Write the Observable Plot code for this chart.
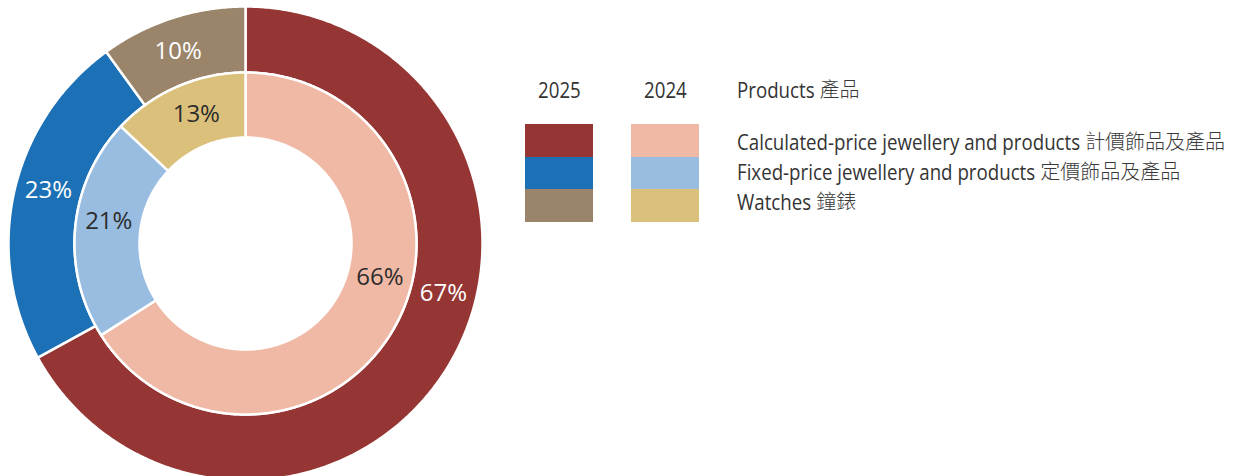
<!DOCTYPE html>
<html>
<head>
<meta charset="utf-8">
<script src="https://cdn.jsdelivr.net/npm/d3@7"></script>
<script src="https://cdn.jsdelivr.net/npm/@observablehq/plot@0.6"></script>
<style>
  html, body { margin: 0; padding: 0; background: #fff; }
  #wrap { position: relative; width: 1234px; height: 476px; overflow: hidden; color: #333; }
  #chart { position: absolute; left: 0; top: 0; }
  .lg { position: absolute; white-space: nowrap; font-size: 22px; line-height: 22px; color: #333; }
  .en { font-family: "Open Sans", sans-serif; font-weight: 380; }
  .zh { font-family: "Noto Sans CJK TC", sans-serif; font-size: 20px; font-weight: 300; color: #3a3a3a; }
  .sw { position: absolute; }
</style>
</head>
<body>
<div id="wrap">
  <div id="chart"></div>
  <div id="legend"></div>
</div>
<script>
// ---- data ----
const categoriesEn = ["Calculated-price jewellery and products", "Fixed-price jewellery and products", "Watches"];
const categoriesZh = ["計價飾品及產品", "定價飾品及產品", "鐘錶"];
const years = ["2025", "2024"];
const values2025 = [67, 23, 10];
const values2024 = [66, 21, 13];
const legendTitleEn = "Products";
const legendTitleZh = "產品";

// ---- palette ----
const colors2025 = ["#953634", "#1c70b6", "#9a846a"];
const colors2024 = ["#f0b9a5", "#98bde1", "#dbc07b"];
const labelInk2025 = "#ffffff";
const labelInk2024 = "#2d2d2d";

// ---- layout ----
const W = 1234, H = 476, cx = 245, cy = 243;
const rings = [
  {year: "2025", values: values2025, colors: colors2025, ink: labelInk2025, r0: 171, r1: 237, nudge: [0, 2.4, -1.3]},
  {year: "2024", values: values2024, colors: colors2024, ink: labelInk2024, r0: 106, r1: 171, nudge: [0, 3.8, 2.6]}
];

const rad = (deg) => deg * Math.PI / 180;
const polyPts = [];
const labels = [];
for (const ring of rings) {
  const total = d3.sum(ring.values);
  let acc = 0;
  ring.values.forEach((v, i) => {
    const a0 = acc / total * 360;
    const a1 = (acc + v) / total * 360;
    acc += v;
    const key = ring.year + "-" + i;
    const n = Math.max(2, Math.ceil((a1 - a0) / 0.5));
    const seg = [];
    for (let k = 0; k <= n; k++) {
      const a = rad(a0 + (a1 - a0) * k / n);
      seg.push({key, fill: ring.colors[i], x: ring.r1 * Math.sin(a), y: ring.r1 * Math.cos(a)});
    }
    for (let k = n; k >= 0; k--) {
      const a = rad(a0 + (a1 - a0) * k / n);
      seg.push({key, fill: ring.colors[i], x: ring.r0 * Math.sin(a), y: ring.r0 * Math.cos(a)});
    }
    seg.push({...seg[0]});
    polyPts.push(...seg);
    // label near mid-angle; the large leading slice carries its label on the right side
    const la = rad(i === 0 ? 104 : (a0 + a1) / 2 + ring.nudge[i]);
    const lr = (ring.r0 + ring.r1) / 2;
    labels.push({text: v + "%", x: lr * Math.sin(la), y: lr * Math.cos(la), ink: ring.ink});
  });
}

const chart = Plot.plot({
  width: W,
  height: H,
  margin: 0,
  x: {type: "linear", domain: [-cx, W - cx], range: [0, W], axis: null},
  y: {type: "linear", domain: [cy, cy - H], range: [0, H], axis: null},
  color: {type: "identity"},
  style: {background: "transparent"},
  marks: [
    Plot.line(polyPts, {x: "x", y: "y", z: "key", fill: "fill", stroke: "#ffffff", strokeWidth: 2.5, strokeLinejoin: "round"}),
    Plot.text(labels, {x: "x", y: "y", text: "text", fill: "ink", fontSize: 24, fontFamily: "Open Sans, sans-serif", fontWeight: 400, textAnchor: "middle", lineAnchor: "middle"})
  ]
});
document.getElementById("chart").appendChild(chart);

// ---- legend (HTML) ----
const legend = document.getElementById("legend");
const SQUEEZE = 0.94;
function condensed(el) {
  const w0 = el.getBoundingClientRect().width;
  el.style.fontStretch = (SQUEEZE * 100) + "%";
  const w1 = el.getBoundingClientRect().width;
  if (w0 === 0 || w1 / w0 > 0.98) {
    el.style.fontStretch = "normal";
    el.style.transformOrigin = "0 0";
    el.style.transform = "scaleX(0.85)";
  }
  return el.getBoundingClientRect().width;
}
function addText(left, top, en, zh, centerX) {
  const e = document.createElement("div");
  e.className = "lg en";
  e.style.left = left + "px";
  e.style.top = top + "px";
  e.textContent = en;
  legend.appendChild(e);
  const w = condensed(e);
  if (centerX !== undefined) e.style.left = (centerX - w / 2) + "px";
  if (zh) {
    const z = document.createElement("div");
    z.className = "lg zh";
    z.style.left = (left + w + 5) + "px";
    z.style.top = top + "px";
    z.textContent = zh;
    legend.appendChild(z);
  }
}
const colLeft = [525, 631];
const swW = 68, swTop = 124, swH = 32.5;
years.forEach((y, j) => addText(0, 78, y, null, colLeft[j] + swW / 2));
addText(737, 78, legendTitleEn, legendTitleZh);
[colors2025, colors2024].forEach((cols, j) => {
  cols.forEach((c, i) => {
    const s = document.createElement("div");
    s.className = "sw";
    s.style.left = colLeft[j] + "px";
    s.style.top = (swTop + i * swH) + "px";
    s.style.width = swW + "px";
    s.style.height = (swH + 0.5) + "px";
    s.style.background = c;
    legend.appendChild(s);
  });
});
categoriesEn.forEach((en, i) => addText(737, 129.5 + i * 30.4, en, categoriesZh[i]));
</script>
</body>
</html>
